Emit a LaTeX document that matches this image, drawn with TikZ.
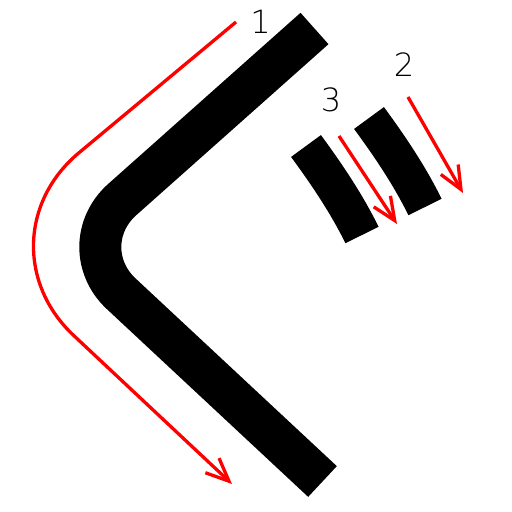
\documentclass[tikz,border=0pt]{standalone}
\usepackage{fontspec}
\setmainfont{DejaVu Sans ExtraLight}
\usetikzlibrary{arrows.meta}
\begin{document}
\begin{tikzpicture}[
        x=1pt, y=-1pt,
        band/.style={line width=42pt},
        bar/.style={line width=37pt},
        flow/.style={draw=red, line width=3.3pt, -{Straight Barb[length=23pt,width=20pt]}},
        num/.style={inner sep=0pt, font=\fontsize{32}{32}\selectfont}
      ]
      \useasboundingbox (0,0) rectangle (512,512);

      % Bent band
      \coordinate (bandtop) at (314.5,28.5);
      \coordinate (bandbend) at (70,246);
      \coordinate (bandend) at (322.5,481.5);
      \draw[band, rounded corners=70pt] (bandtop) -- (bandbend) -- (bandend);

      % Short bars
      \coordinate (barAtop) at (306,146);
      \coordinate (barAend) at (362,235);
      \draw[bar] (barAtop) .. controls (326.7,174.2) and (346.6,203.6) .. (barAend);

      \coordinate (barBtop) at (369,118);
      \coordinate (barBend) at (425,207);
      \draw[bar] (barBtop) .. controls (389.7,146.2) and (409.6,175.6) .. (barBend);

      % Flow arrows
      \coordinate (flowAstart) at (236,22);
      \coordinate (flowAbend) at (-27,241);
      \coordinate (flowAend) at (232,484);
      \draw[flow, rounded corners=138pt] (flowAstart) -- (flowAbend) -- (flowAend);

      \coordinate (flowBstart) at (339,136);
      \coordinate (flowBend) at (397,224);
      \draw[flow] (flowBstart) -- (flowBend);

      \coordinate (flowCstart) at (408,97);
      \coordinate (flowCend) at (463,193);
      \draw[flow] (flowCstart) -- (flowCend);

      % Labels
      \node[num] (one) at (260.5,21.7) {1};
      \node[num] (two) at (404,64.3) {2};
      \node[num] (three) at (331,99.7) {3};
    \end{tikzpicture}
\end{document}
